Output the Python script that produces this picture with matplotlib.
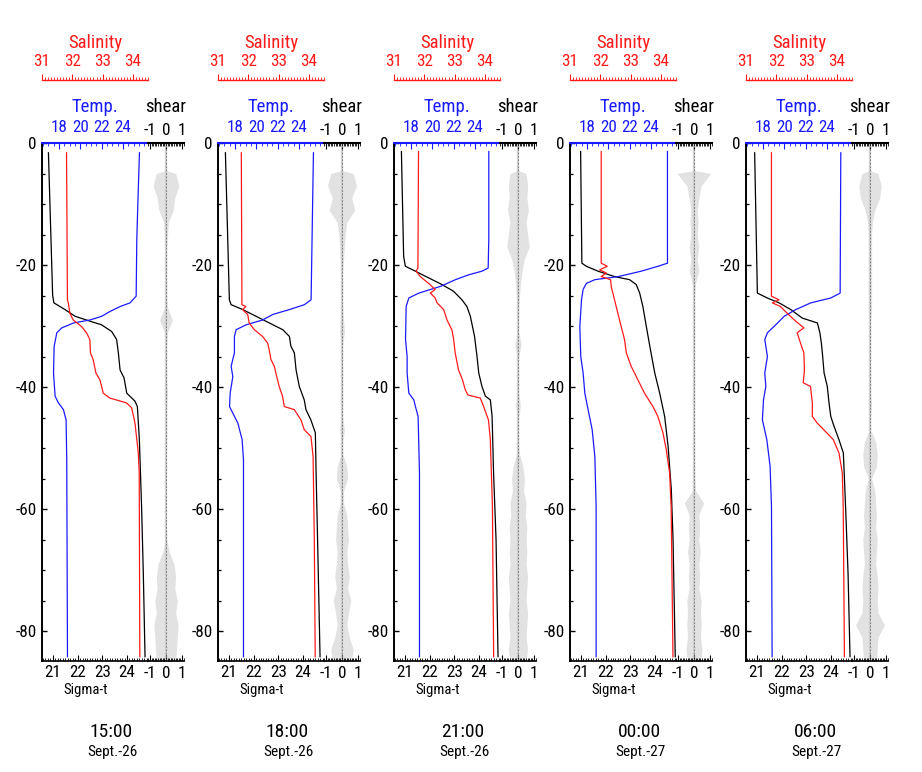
import matplotlib
matplotlib.use('Agg')
import matplotlib.pyplot as plt
from matplotlib import font_manager
from matplotlib.ticker import MultipleLocator, FixedLocator


def pick_font():
    prefs = ['Liberation Sans Narrow', 'Roboto Condensed', 'Open Sans Condensed', 'Noto Sans Condensed',
             'DejaVu Sans Condensed', 'Noto Sans SemiCondensed', 'Open Sans SemiCondensed']
    flist = font_manager.fontManager.ttflist
    names = {f.name for f in flist}
    for p in prefs:
        if p in names:
            return p, 'normal', True
    for f in flist:
        st = f.stretch
        ok_w = f.weight in (400, 'normal', 'regular', 'book')
        if f.style == 'normal' and ok_w:
            if (isinstance(st, str) and st in ('condensed', 'semi-condensed')) or \
               (isinstance(st, (int, float)) and 60 <= st < 100):
                return f.name, st, True
    return 'Liberation Sans', 'normal', False


FONT, STRETCH, CONDENSED = pick_font()
plt.rcParams['font.family'] = [FONT, 'DejaVu Sans']
plt.rcParams['font.stretch'] = STRETCH
FS = 1.0 if CONDENSED else 0.86

# ---------------- data ----------------
TIMES = ["15:00", "18:00", "21:00", "00:00", "06:00"]
DATES = ["Sept.-26", "Sept.-26", "Sept.-26", "Sept.-27", "Sept.-27"]

SIG_TICKS = [21, 22, 23, 24]
TEMP_TICKS = [18, 20, 22, 24]
SAL_TICKS = [31, 32, 33, 34]
SHEAR_TICKS = [-1, 0, 1]
DEPTH_TICKS = [0, -20, -40, -60, -80]

SIG_LIM = (20.56, 24.85)
TEMP_LIM = (16.4, 26.34)
SAL_LIM = (31.0, 34.5)
SHEAR_LIM = (-1.12, 1.12)
DEPTH_LIM = (-84.9, 0)

# Panel 1 (15:00)
SIG1_D = [-1.6, -24.9, -26.2, -27.3, -28.4, -29.2, -29.8, -30.9, -32.2, -34.4, -37.2, -38.5, -41.0, -42.3, -43.2, -48.6, -59.6, -70.5, -84.2]
SIG1 = [20.82, 20.99, 21.04, 21.49, 21.90, 22.50, 22.97, 23.38, 23.58, 23.65, 23.72, 23.88, 23.99, 24.32, 24.42, 24.50, 24.59, 24.66, 24.73]
TMP1_D = [-1.6, -10.4, -15.8, -25.1, -26.2, -26.8, -27.6, -28.4, -29.0, -29.5, -30.3, -31.1, -33.3, -37.7, -41.5, -42.6, -43.7, -45.4, -51.9, -84.2]
TMP1 = [25.54, 25.38, 25.29, 25.23, 24.66, 23.73, 22.79, 22.0, 20.91, 19.35, 18.26, 17.79, 17.54, 17.48, 17.63, 17.94, 18.41, 18.66, 18.72, 18.79]
SAL1_D = [-1.6, -25.7, -26.5, -27.9, -29.0, -30.1, -31.1, -32.2, -34.4, -35.5, -37.7, -38.8, -39.9, -41.0, -41.8, -42.6, -43.4, -45.9, -50.8, -54.1, -84.2]
SAL1 = [31.81, 31.84, 31.88, 31.92, 32.03, 32.31, 32.47, 32.58, 32.60, 32.69, 32.78, 32.91, 32.97, 33.02, 33.24, 33.79, 33.96, 34.07, 34.18, 34.21, 34.23]

# Panel 2 (18:00)
SIG2_D = [-1.6, -25.7, -26.5, -27.3, -28.4, -29.5, -30.6, -31.7, -33.3, -34.4, -37.2, -39.9, -42.1, -43.7, -45.4, -47.5, -54.1, -65.0, -84.2]
SIG2 = [20.86, 21.02, 21.09, 21.56, 22.10, 22.64, 23.18, 23.45, 23.51, 23.65, 23.72, 23.85, 24.05, 24.12, 24.32, 24.50, 24.53, 24.59, 24.69]
TMP2_D = [-1.6, -15.8, -25.7, -26.5, -27.3, -28.1, -29.0, -29.8, -30.6, -31.7, -34.4, -36.6, -38.3, -41.0, -43.2, -45.9, -48.6, -51.9, -84.2]
TMP2 = [25.35, 25.22, 25.13, 24.50, 23.1, 21.54, 20.6, 19.04, 18.1, 17.94, 17.94, 17.63, 17.79, 17.54, 17.48, 18.26, 18.66, 18.79, 18.79]
SAL2_D = [-1.6, -26.5, -26.8, -27.3, -28.1, -29.5, -30.6, -31.7, -32.8, -33.9, -35.5, -36.6, -37.7, -39.9, -41.5, -43.2, -43.7, -45.4, -47.0, -48.1, -51.4, -65.0, -84.2]
SAL2 = [31.77, 31.79, 31.92, 31.81, 31.98, 32.03, 32.20, 32.47, 32.64, 32.69, 32.75, 32.86, 32.91, 33.02, 33.13, 33.19, 33.52, 33.74, 33.85, 34.07, 34.14, 34.18, 34.21]

# Panel 3 (21:00)
SIG3_D = [-1.4, -18.6, -20.2, -21.0, -22.1, -23.2, -24.3, -25.7, -26.8, -28.4, -31.7, -35.0, -37.7, -39.9, -41.5, -42.1, -44.8, -54.1, -65.0, -84.2]
SIG3 = [20.86, 20.95, 21.02, 21.42, 21.96, 22.50, 22.97, 23.31, 23.51, 23.65, 23.82, 23.92, 23.99, 24.12, 24.26, 24.46, 24.53, 24.59, 24.69, 24.77]
TMP3_D = [-1.4, -15.8, -20.5, -21.0, -21.6, -22.4, -23.5, -24.6, -25.4, -26.8, -32.2, -35.0, -37.7, -41.0, -42.1, -43.2, -44.8, -54.1, -84.2]
TMP3 = [25.29, 25.29, 25.23, 24.66, 23.41, 22.16, 20.76, 18.73, 17.79, 17.54, 17.48, 17.63, 17.63, 17.79, 18.26, 18.41, 18.66, 18.79, 18.79]
SAL3_D = [-1.4, -20.5, -21.0, -21.9, -23.0, -24.0, -24.6, -25.4, -26.2, -27.3, -29.0, -30.6, -32.2, -34.4, -37.2, -38.8, -40.4, -41.3, -41.8, -43.2, -45.4, -48.6, -59.6, -84.2]
SAL3 = [31.81, 31.79, 31.73, 31.87, 32.14, 32.36, 32.20, 32.36, 32.42, 32.64, 32.75, 32.91, 32.97, 33.02, 33.13, 33.26, 33.35, 33.44, 33.85, 33.96, 34.12, 34.18, 34.25, 34.29]

# Panel 4 (00:00)
SIG4_D = [-1.4, -19.7, -20.2, -21.0, -21.9, -22.4, -23.2, -24.6, -26.8, -30.1, -33.3, -37.7, -41.0, -44.8, -49.7, -56.8, -65.0, -84.2]
SIG4 = [20.99, 21.04, 21.22, 21.69, 22.37, 22.97, 23.24, 23.38, 23.51, 23.65, 23.79, 23.99, 24.19, 24.39, 24.53, 24.66, 24.73, 24.82]
TMP4_D = [-1.4, -19.7, -20.2, -21.0, -21.9, -22.4, -23.0, -24.0, -25.7, -30.1, -35.0, -37.7, -41.0, -43.2, -47.0, -51.4, -59.6, -84.2]
TMP4 = [25.54, 25.54, 24.66, 23.1, 20.91, 18.73, 17.94, 17.63, 17.48, 17.32, 17.41, 17.63, 17.79, 18.04, 18.48, 18.73, 18.85, 18.85]
SAL4_D = [-1.4, -19.7, -20.2, -20.8, -21.3, -21.9, -22.4, -23.5, -25.7, -27.9, -30.1, -32.2, -34.4, -36.6, -38.8, -41.0, -43.2, -44.8, -47.5, -50.3, -54.1, -59.6, -84.2]
SAL4 = [32.03, 32.03, 32.23, 31.98, 32.20, 32.03, 32.34, 32.36, 32.47, 32.58, 32.69, 32.80, 32.86, 33.02, 33.24, 33.46, 33.74, 33.90, 34.07, 34.18, 34.29, 34.34, 34.40]

# Panel 5 (06:00)
SIG5_D = [-1.6, -24.6, -25.4, -26.2, -27.3, -28.7, -29.5, -31.1, -32.8, -34.4, -37.7, -39.9, -42.6, -44.8, -46.4, -48.6, -50.8, -59.6, -70.5, -84.2]
SIG5 = [20.91, 21.02, 21.42, 21.90, 22.37, 22.84, 23.45, 23.55, 23.61, 23.65, 23.72, 23.85, 23.92, 23.99, 24.12, 24.32, 24.50, 24.59, 24.69, 24.77]
TMP5_D = [-1.6, -24.6, -25.4, -26.2, -27.3, -28.4, -29.8, -31.1, -32.2, -35.0, -37.7, -39.9, -42.1, -45.4, -48.6, -53.0, -59.6, -84.2]
TMP5 = [25.29, 25.23, 24.35, 22.48, 21.07, 19.98, 19.19, 18.41, 18.16, 18.41, 18.16, 18.26, 18.04, 17.94, 18.35, 18.66, 18.79, 18.85]
SAL5_D = [-1.6, -25.1, -25.7, -26.2, -26.8, -27.9, -29.2, -30.3, -31.1, -32.8, -34.4, -37.2, -39.3, -39.9, -42.6, -44.8, -45.9, -47.0, -48.6, -50.8, -54.1, -59.6, -84.2]
SAL5 = [31.84, 31.84, 32.09, 31.87, 32.14, 32.36, 32.64, 32.91, 32.69, 32.80, 32.91, 32.93, 32.89, 33.13, 33.19, 33.19, 33.35, 33.57, 33.88, 34.07, 34.18, 34.21, 34.25]

# Shear: envelope amplitude of the noisy shear trace, read every ~2 m
SHEAR_D = [-4.5, -5, -7, -9, -11, -13, -15, -17, -19, -21, -23, -25, -27, -29, -31, -33, -35, -37, -39, -41, -43,
           -45, -47, -49, -51, -53, -55, -57, -59, -61, -63, -65, -67, -69, -71, -73, -75, -77, -79, -81, -83, -85]
SHEAR1 = [0, 0.6, 0.8, 0.55, 0.45, 0.15, 0.1, 0.05, 0.05, 0.05, 0.05, 0.05, 0.1, 0.4, 0.1, 0.05, 0.05, 0.05, 0.05, 0.1, 0.05,
          0.05, 0.05, 0.05, 0.03, 0.03, 0.03, 0.03, 0.03, 0.03, 0.03, 0.05, 0.2, 0.5, 0.6, 0.55, 0.7, 0.6, 0.75, 0.7, 0.65, 0.6]
SHEAR2 = [0, 0.7, 0.9, 0.6, 0.8, 0.3, 0.2, 0.15, 0.1, 0.05, 0.05, 0.05, 0.05, 0.1, 0.15, 0.05, 0.05, 0.05, 0.05, 0.05, 0.05,
          0.05, 0.15, 0.05, 0.05, 0.3, 0.35, 0.1, 0.1, 0.3, 0.35, 0.4, 0.3, 0.35, 0.45, 0.35, 0.55, 0.4, 0.3, 0.45, 0.7, 0.6]
SHEAR3 = [0, 0.5, 0.6, 0.55, 0.65, 0.5, 0.6, 0.7, 0.4, 0.25, 0.15, 0.1, 0.05, 0.05, 0.05, 0.2, 0.05, 0.05, 0.05, 0.05, 0.15,
          0.05, 0.05, 0.05, 0.1, 0.3, 0.4, 0.35, 0.5, 0.45, 0.55, 0.5, 0.55, 0.5, 0.6, 0.55, 0.5, 0.6, 0.55, 0.5, 0.6, 0.5]
SHEAR4 = [0, 1.05, 0.45, 0.3, 0.2, 0.25, 0.2, 0.3, 0.2, 0.3, 0.1, 0.05, 0.05, 0.05, 0.05, 0.05, 0.05, 0.05, 0.05, 0.05, 0.05,
          0.05, 0.05, 0.05, 0.05, 0.05, 0.05, 0.1, 0.6, 0.3, 0.35, 0.3, 0.4, 0.3, 0.35, 0.3, 0.45, 0.4, 0.45, 0.4, 0.5, 0.4]
SHEAR5 = [0, 0.5, 0.7, 0.6, 0.3, 0.15, 0.1, 0.1, 0.1, 0.1, 0.1, 0.1, 0.1, 0.05, 0.05, 0.05, 0.05, 0.05, 0.05, 0.05, 0.1,
          0.05, 0.05, 0.35, 0.45, 0.4, 0.1, 0.3, 0.35, 0.4, 0.35, 0.45, 0.4, 0.35, 0.45, 0.5, 0.45, 0.5, 0.9, 0.5, 0.45, 0.4]

SIG_D = [SIG1_D, SIG2_D, SIG3_D, SIG4_D, SIG5_D]
SIG = [SIG1, SIG2, SIG3, SIG4, SIG5]
TMP_D = [TMP1_D, TMP2_D, TMP3_D, TMP4_D, TMP5_D]
TMP = [TMP1, TMP2, TMP3, TMP4, TMP5]
SAL_D = [SAL1_D, SAL2_D, SAL3_D, SAL4_D, SAL5_D]
SAL = [SAL1, SAL2, SAL3, SAL4, SAL5]
SHEAR = [SHEAR1, SHEAR2, SHEAR3, SHEAR4, SHEAR5]

# ---------------- layout (pixels) ----------------
W, H = 922, 772
MAIN_L, MAIN_W, SHEAR_W = 42, 106, 36
TOP, BOT, STEP, SAL_Y = 143, 661, 176, 80

RED = '#ff1a1a'
BLUE = '#1a1aff'
TICK_FS = 12.3 * FS
TITLE_FS = 13.5 * FS

fig = plt.figure(figsize=(W / 100, H / 100), dpi=100)


def fx(px):
    return px / W


def fy(py):
    return 1 - py / H


for k in range(5):
    off = STEP * k
    rect = [fx(MAIN_L + off), fy(BOT), fx(MAIN_W), (BOT - TOP) / H]

    # ----- main axes: sigma-t (bottom) -----
    ax = fig.add_axes(rect)
    ax.plot(SIG[k], SIG_D[k], color='black', lw=0.9, zorder=3)
    ax.set_xlim(SIG_LIM)
    ax.set_ylim(DEPTH_LIM)
    ax.spines['top'].set_visible(False)
    ax.spines['right'].set_visible(False)
    ax.spines['left'].set_linewidth(1.4)
    ax.spines['bottom'].set_linewidth(1.2)
    ax.xaxis.set_major_locator(FixedLocator(SIG_TICKS))
    ax.xaxis.set_minor_locator(MultipleLocator(0.1))
    ax.yaxis.set_major_locator(FixedLocator(DEPTH_TICKS))
    ax.yaxis.set_minor_locator(MultipleLocator(5))
    ax.tick_params(axis='x', which='major', direction='in', length=4.5, width=0.8, labelsize=TICK_FS, pad=3)
    ax.tick_params(axis='x', which='minor', direction='in', length=2, width=0.6)
    ax.tick_params(axis='y', which='major', direction='in', length=3.5, width=1.0, labelsize=TICK_FS, pad=4)
    ax.tick_params(axis='y', which='minor', direction='in', length=2.2, width=0.9)
    ax.set_yticklabels([str(v) for v in DEPTH_TICKS])

    # ----- temperature (top, blue) -----
    axT = ax.twiny()
    axT.plot(TMP[k], TMP_D[k], color=BLUE, lw=0.9, zorder=3)
    axT.set_xlim(TEMP_LIM)
    axT.set_ylim(DEPTH_LIM)
    for s in ['left', 'right', 'bottom']:
        axT.spines[s].set_visible(False)
    axT.spines['top'].set_color(BLUE)
    axT.spines['top'].set_linewidth(1.5)
    axT.xaxis.set_major_locator(FixedLocator(TEMP_TICKS))
    axT.xaxis.set_minor_locator(MultipleLocator(0.5))
    axT.tick_params(axis='x', which='major', direction='in', length=4.5, width=0.8, colors=BLUE,
                    labelsize=TICK_FS, pad=5.5)
    axT.tick_params(axis='x', which='minor', direction='in', length=2.5, width=0.6, colors=BLUE)

    # ----- salinity (red, own scale drawn above) -----
    axS = ax.twiny()
    axS.plot(SAL[k], SAL_D[k], color=RED, lw=0.9, zorder=3)
    axS.set_xlim(SAL_LIM)
    axS.set_ylim(DEPTH_LIM)
    axS.set_axis_off()

    axsal = fig.add_axes([fx(MAIN_L + off), fy(SAL_Y), fx(MAIN_W), 1e-4])
    axsal.set_xlim(SAL_LIM)
    axsal.patch.set_visible(False)
    for s in ['left', 'right', 'bottom']:
        axsal.spines[s].set_visible(False)
    axsal.spines['top'].set_color(RED)
    axsal.spines['top'].set_linewidth(1.0)
    axsal.set_yticks([])
    axsal.xaxis.set_ticks_position('top')
    axsal.xaxis.set_major_locator(FixedLocator(SAL_TICKS))
    axsal.xaxis.set_minor_locator(MultipleLocator(0.1))
    axsal.tick_params(axis='x', which='major', direction='out', length=4.3, width=0.8, colors=RED,
                      labelsize=TICK_FS, pad=3.5, top=True, bottom=False, labeltop=True, labelbottom=False)
    axsal.tick_params(axis='x', which='minor', direction='out', length=2.4, width=0.6, colors=RED,
                      top=True, bottom=False)

    # ----- shear -----
    axs = fig.add_axes([fx(MAIN_L + MAIN_W + off), fy(BOT), fx(SHEAR_W), (BOT - TOP) / H])
    amp = SHEAR[k]
    axs.fill_betweenx(SHEAR_D, [-a for a in amp], amp, color='#e2e2e2', lw=0, zorder=1)
    axs.axvline(0, color='#d0d0d0', lw=1.6, zorder=1.5)
    axs.axvline(0, color='#808080', lw=0.7, ls=(0, (2, 1.5)), zorder=2)
    axs.set_xlim(SHEAR_LIM)
    axs.set_ylim(DEPTH_LIM)
    axs.patch.set_visible(False)
    axs.spines['left'].set_visible(False)
    axs.spines['right'].set_visible(False)
    axs.spines['top'].set_linewidth(1.5)
    axs.spines['bottom'].set_linewidth(1.2)
    axs.set_yticks([])
    axs.xaxis.set_major_locator(FixedLocator(SHEAR_TICKS))
    axs.xaxis.set_minor_locator(MultipleLocator(0.1))
    axs.tick_params(axis='x', which='major', direction='in', length=4.5, width=0.8, labelsize=TICK_FS,
                    top=True, bottom=True, labeltop=True, labelbottom=True, pad=3.5)
    axs.tick_params(axis='x', which='minor', direction='in', length=2, width=0.6, top=True, bottom=True)
    axs.set_xticklabels([str(v) for v in SHEAR_TICKS])

    # ----- text labels -----
    fig.text(fx(95 + off), fy(48), 'Salinity', color=RED, fontsize=TITLE_FS, ha='center', va='baseline')
    fig.text(fx(95 + off), fy(112), 'Temp.', color=BLUE, fontsize=TITLE_FS, ha='center', va='baseline')
    fig.text(fx(166 + off), fy(112), 'shear', color='black', fontsize=TITLE_FS, ha='center', va='baseline')
    fig.text(fx(86 + off), fy(694), 'Sigma-t', color='black', fontsize=10.5 * FS, ha='center', va='baseline')
    fig.text(fx(111 + off), fy(737), TIMES[k], color='black', fontsize=14 * FS, ha='center', va='baseline')
    fig.text(fx(112 + off), fy(756), DATES[k], color='black', fontsize=11 * FS, ha='center', va='baseline')

fig.savefig('out.png', dpi=100)
